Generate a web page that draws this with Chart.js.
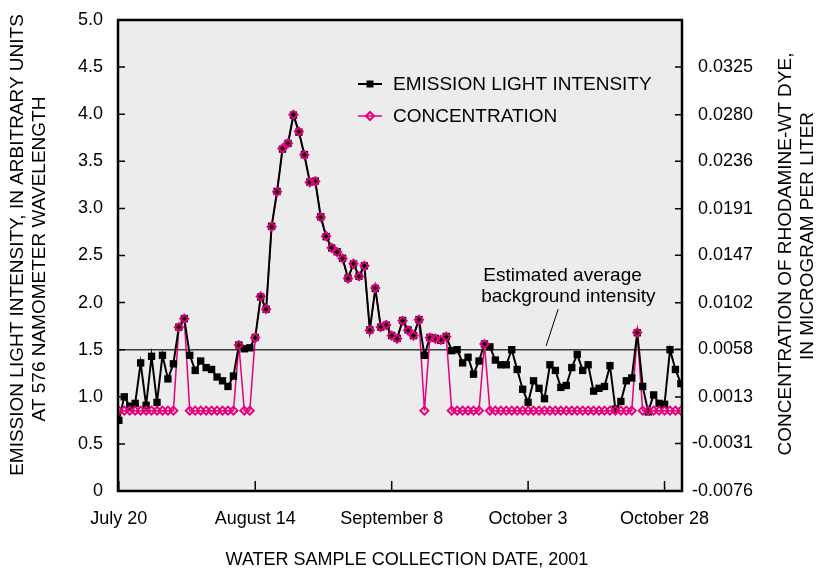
<!DOCTYPE html>
<html>
<head>
<meta charset="utf-8">
<script src="https://cdn.jsdelivr.net/npm/chart.js@4.4.1/dist/chart.umd.min.js"></script>
<style>
  html, body { margin: 0; padding: 0; background: #fff; }
  #wrap { width: 817px; height: 568px; }
</style>
</head>
<body>
<div id="wrap"><canvas id="dye_graph" width="817" height="568"></canvas></div>
<script>
//Setup data - one water sample a day, day 0 = July 20, 2001
const sampleDay = [0,1,2,3,4,5,6,7,8,9,10,11,12,13,14,15,16,17,18,19,
  20,21,22,23,24,25,26,27,28,29,30,31,32,33,34,35,36,37,38,39,
  40,41,42,43,44,45,46,47,48,49,50,51,52,53,54,55,56,57,58,59,
  60,61,62,63,64,65,66,67,68,69,70,71,72,73,74,75,76,77,78,79,
  80,81,82,83,84,85,86,87,88,89,90,91,92,93,94,95,96,97,98,99,
  100,101,102,103];

const intensity = [0.75,1.00,0.90,0.93,1.36,0.91,1.43,0.94,1.44,1.19,
  1.35,1.74,1.83,1.44,1.28,1.38,1.31,1.29,1.21,1.17,
  1.11,1.22,1.55,1.51,1.52,1.63,2.06,1.93,2.81,3.18,
  3.63,3.69,3.99,3.81,3.57,3.28,3.29,2.91,2.70,2.58,
  2.54,2.47,2.26,2.41,2.28,2.39,1.71,2.15,1.74,1.76,
  1.65,1.62,1.81,1.71,1.65,1.82,1.44,1.63,1.62,1.60,
  1.64,1.49,1.50,1.36,1.42,1.24,1.38,1.56,1.53,1.39,
  1.34,1.34,1.50,1.29,1.08,0.94,1.17,1.09,0.98,1.34,
  1.28,1.10,1.12,1.31,1.45,1.28,1.34,1.06,1.09,1.11,
  1.33,0.87,0.95,1.17,1.20,1.68,1.11,0.84,1.02,0.93,
  0.92,1.50,1.29,1.14];

// microgram per liter
const concentration = [0,0,0,0,0,0,0,0,0,0,
  0,0.0079,0.0087,0,0,0,0,0,0,0,
  0,0,0.0062,0,0,0.0069,0.0108,0.0096,0.0174,0.0207,
  0.0248,0.0253,0.0280,0.0264,0.0242,0.0216,0.0217,0.0183,0.0165,0.0154,
  0.0150,0.0144,0.0125,0.0139,0.0127,0.0137,0.0076,0.0116,0.0079,0.0081,
  0.0071,0.0068,0.0085,0.0076,0.0071,0.0086,0,0.0069,0.0068,0.0067,
  0.0070,0,0,0,0,0,0,0.0063,0,0,
  0,0,0,0,0,0,0,0,0,0,
  0,0,0,0,0,0,0,0,0,0,
  0,0,0,0,0,0.0074,0,0,0,0,
  0,0,0,0];

const tickDays = [0, 25, 50, 75, 100];
const tickLabels = ["July 20", "August 14", "September 8", "October 3", "October 28"];
const intensityTicks = [0, 0.5, 1.0, 1.5, 2.0, 2.5, 3.0, 3.5, 4.0, 4.5, 5.0];
const concTicks = [-0.0076, -0.0031, 0.0013, 0.0058, 0.0102, 0.0147, 0.0191, 0.0236, 0.0280, 0.0325];
const backgroundLevel = 1.5;

// right axis calibration (concentration per intensity unit)
const concAtZero = -0.0076;
const concPerUnit = 0.008911;

//------------------------------------------

const FONT = '"Liberation Sans", Arial, Helvetica, sans-serif';
const PINK = '#e6007e';

const intensityPts = sampleDay.map((d, i) => ({x: d, y: intensity[i]}));
const concPts = sampleDay.map((d, i) => ({x: d, y: concentration[i]}));

//frame, ticks, legend and labels plugin
const decor = {
  id: 'decor',
  beforeDraw(chart) {
    const {ctx, chartArea: {left, top, width, height}} = chart;
    ctx.save();
    ctx.fillStyle = '#ececec';
    ctx.fillRect(left, top, width, height);
    ctx.restore();
  },
  beforeDatasetsDraw(chart) {
    const {ctx, chartArea: {left, right}, scales: {y}} = chart;
    const yy = y.getPixelForValue(backgroundLevel);
    ctx.save();
    ctx.strokeStyle = '#3a3a3a';
    ctx.lineWidth = 1.5;
    ctx.beginPath();
    ctx.moveTo(left, yy);
    ctx.lineTo(right, yy);
    ctx.stroke();
    ctx.restore();
  },
  afterDatasetsDraw(chart) {
    const {ctx, chartArea: {left, top, right, bottom}, scales: {x, y, y2}} = chart;
    ctx.save();
    ctx.strokeStyle = '#000';

    // inner tick marks
    ctx.lineWidth = 1.5;
    ctx.beginPath();
    intensityTicks.forEach(v => {
      const p = y.getPixelForValue(v);
      ctx.moveTo(left, p); ctx.lineTo(left + 7, p);
    });
    concTicks.forEach(v => {
      const p = y2.getPixelForValue(v);
      ctx.moveTo(right, p); ctx.lineTo(right - 7, p);
    });
    tickDays.forEach(v => {
      const p = x.getPixelForValue(v);
      ctx.moveTo(p, bottom); ctx.lineTo(p, bottom - 10);
    });
    ctx.stroke();

    // frame
    ctx.lineWidth = 2.5;
    ctx.strokeRect(left, top, right - left, bottom - top);

    // annotation
    ctx.fillStyle = '#000';
    ctx.font = '19px ' + FONT;
    ctx.textAlign = 'left';
    ctx.textBaseline = 'middle';
    ctx.fillText('Estimated average', x.getPixelForValue(66.8), y.getPixelForValue(2.28));
    ctx.fillText('background intensity', x.getPixelForValue(66.4), y.getPixelForValue(2.06));
    ctx.lineWidth = 1;
    ctx.beginPath();
    ctx.moveTo(x.getPixelForValue(80.5), y.getPixelForValue(1.93));
    ctx.lineTo(x.getPixelForValue(78.3), y.getPixelForValue(1.54));
    ctx.stroke();

    // legend
    const lx = 358, lw = 24;
    ctx.lineWidth = 2;
    ctx.strokeStyle = '#000';
    ctx.beginPath(); ctx.moveTo(lx, 84); ctx.lineTo(lx + lw, 84); ctx.stroke();
    ctx.fillRect(lx + lw / 2 - 3.5, 84 - 3.5, 7, 7);
    ctx.fillText('EMISSION LIGHT INTENSITY', 393, 85);
    ctx.strokeStyle = PINK;
    ctx.lineWidth = 1.5;
    ctx.beginPath(); ctx.moveTo(lx, 116); ctx.lineTo(lx + lw, 116); ctx.stroke();
    ctx.lineWidth = 2;
    ctx.beginPath();
    ctx.moveTo(lx + lw / 2, 112); ctx.lineTo(lx + lw / 2 + 4, 116);
    ctx.lineTo(lx + lw / 2, 120); ctx.lineTo(lx + lw / 2 - 4, 116);
    ctx.closePath(); ctx.stroke();
    ctx.fillText('CONCENTRATION', 393, 117);

    // axis titles
    ctx.font = '18px ' + FONT;
    ctx.textAlign = 'center';
    ctx.fillText('WATER SAMPLE COLLECTION DATE, 2001', 407, 560);
    ctx.font = '19px ' + FONT;
    const vtext = (t, cx, cy) => {
      ctx.save();
      ctx.translate(cx, cy);
      ctx.rotate(-Math.PI / 2);
      ctx.fillText(t, 0, 0);
      ctx.restore();
    };
    vtext('EMISSION LIGHT INTENSITY, IN ARBITRARY UNITS', 18, 245);
    vtext('AT 576 NAMOMETER WAVELENGTH', 40, 259);
    vtext('CONCENTRATION OF RHODAMINE-WT DYE,', 786, 254);
    vtext('IN MICROGRAM PER LITER', 808, 236);
    ctx.restore();
  }
};

//------------------------------------------

const fitY = w => s => { s.width = w; s.paddingTop = 0; s.paddingBottom = 0; };

const config = {
  type: 'line',
  data: {
    datasets: [
      {label: 'CONCENTRATION line', data: concPts, yAxisID: 'y2', borderColor: PINK, borderWidth: 1.5,
       pointRadius: 0, order: 2},
      {label: 'EMISSION LIGHT INTENSITY', data: intensityPts, yAxisID: 'y', borderColor: '#000', borderWidth: 2,
       pointStyle: 'rect', pointRadius: 5.2, pointBackgroundColor: '#000', pointBorderWidth: 0, order: 1},
      {label: 'CONCENTRATION', data: concPts, yAxisID: 'y2', showLine: false, pointStyle: 'rectRot',
       pointRadius: 4, pointBorderColor: PINK, pointBackgroundColor: 'rgba(0,0,0,0)', pointBorderWidth: 2, order: 0}
    ]
  },
  options: {
    responsive: false,
    animation: false,
    layout: {padding: {top: 20, right: 64}},
    plugins: {legend: {display: false}, tooltip: {enabled: false}},
    scales: {
      x: {
        type: 'linear', min: -0.15, max: 103.2,
        grid: {display: false, drawTicks: false}, border: {display: false},
        afterBuildTicks: s => { s.ticks = tickDays.map(v => ({value: v})); },
        afterFit: s => { s.height = 77; },
        ticks: {color: '#000', font: {family: FONT, size: 18}, padding: 17, maxRotation: 0, autoSkip: false,
          callback: v => tickLabels[tickDays.indexOf(v)]}
      },
      y: {
        type: 'linear', position: 'left', min: 0, max: 5,
        grid: {display: false, drawTicks: false}, border: {display: false},
        afterBuildTicks: s => { s.ticks = intensityTicks.map(v => ({value: v})); },
        afterFit: fitY(118),
        ticks: {color: '#000', font: {family: FONT, size: 18}, padding: 15,
          callback: v => v === 0 ? '0' : v.toFixed(1)}
      },
      y2: {
        type: 'linear', position: 'right', min: concAtZero, max: concAtZero + 5 * concPerUnit,
        grid: {display: false, drawTicks: false}, border: {display: false},
        afterBuildTicks: s => { s.ticks = concTicks.map(v => ({value: v})); },
        afterFit: fitY(71),
        ticks: {color: '#000', font: {family: FONT, size: 18}, padding: 9, crossAlign: 'far',
          callback: v => v.toFixed(4)}
      }
    }
  },
  plugins: [decor]
};

//Render chart
const dye_graph = new Chart(document.getElementById('dye_graph'), config);
</script>
</body>
</html>
